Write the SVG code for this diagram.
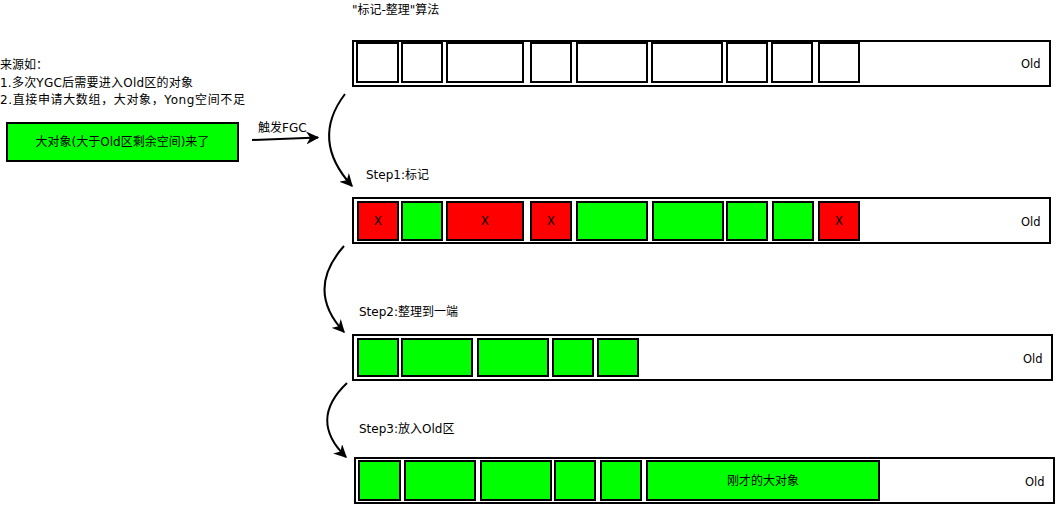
<svg xmlns="http://www.w3.org/2000/svg" width="1057" height="505" viewBox="0 0 1057 505">
<defs>
<style>
text{font-family:"DejaVu Sans","Noto Sans CJK SC",sans-serif;font-size:12px;fill:#000}
.old{font-size:11.5px}
.c{text-anchor:middle;dominant-baseline:central}
.outer{fill:#fff;stroke:#000;stroke-width:2}
.blk{stroke:#000;stroke-width:2}
.w{fill:#fff}
.g{fill:#00ff00}
.r{fill:#ff0000}
.conn{fill:none;stroke:#000;stroke-width:2}
</style>
<marker id="ah2" viewBox="0 0 10 10" refX="9" refY="5" markerWidth="13" markerHeight="13" markerUnits="userSpaceOnUse" orient="auto">
<path d="M0,0 L10,5 L0,10 L3,5 Z" fill="#000"/>
</marker>
</defs>
<rect width="1057" height="505" fill="#fff"/>

<text x="352" y="14">"标记-整理"算法</text>

<g id="source-text">
<text x="0" y="69">来源如：</text>
<text x="0" y="87" textLength="193" lengthAdjust="spacing">1.多次YGC后需要进入Old区的对象</text>
<text x="0" y="104" textLength="245" lengthAdjust="spacing">2.直接申请大数组，大对象，Yong空间不足</text>
</g>

<g id="big-object">
<rect x="7" y="123" width="231" height="38" class="g blk"/>
<text x="122.5" y="142" class="c">大对象(大于Old区剩余空间)来了</text>
</g>

<g id="connectors">
<text x="258" y="132">触发FGC</text>
<path d="M252,140 L318,137.5" class="conn" marker-end="url(#ah2)"/>
<path d="M345,94 Q310,140 352,186" class="conn" marker-end="url(#ah2)"/>
<path d="M344,246 Q305,290 344,332" class="conn" marker-end="url(#ah2)"/>
<path d="M347,383 Q308,420 346,457" class="conn" marker-end="url(#ah2)"/>
</g>

<g id="row0">
<rect x="353" y="41" width="697" height="45" class="outer"/>
<rect x="357" y="43" width="41" height="39" class="w blk"/>
<rect x="402" y="43" width="40" height="39" class="w blk"/>
<rect x="447" y="43" width="76" height="39" class="w blk"/>
<rect x="531" y="43" width="40" height="39" class="w blk"/>
<rect x="577" y="43" width="70" height="39" class="w blk"/>
<rect x="652" y="43" width="70" height="39" class="w blk"/>
<rect x="727" y="43" width="40" height="39" class="w blk"/>
<rect x="772" y="43" width="40" height="39" class="w blk"/>
<rect x="819" y="43" width="40" height="39" class="w blk"/>
<text x="1021" y="68" class="old">Old</text>
</g>

<g id="step1">
<text x="366" y="179">Step1:标记</text>
<rect x="353" y="198" width="697" height="45" class="outer"/>
<rect x="358" y="202" width="40" height="38" class="r blk"/>
<rect x="402" y="202" width="40" height="38" class="g blk"/>
<rect x="447" y="202" width="76" height="38" class="r blk"/>
<rect x="531" y="202" width="40" height="38" class="r blk"/>
<rect x="577" y="202" width="70" height="38" class="g blk"/>
<rect x="653" y="202" width="70" height="38" class="g blk"/>
<rect x="727" y="202" width="40" height="38" class="g blk"/>
<rect x="773" y="202" width="40" height="38" class="g blk"/>
<rect x="819" y="202" width="40" height="38" class="r blk"/>
<text x="378" y="221" class="c old">X</text>
<text x="485" y="221" class="c old">X</text>
<text x="551" y="221" class="c old">X</text>
<text x="839" y="221" class="c old">X</text>
<text x="1021" y="226" class="old">Old</text>
</g>

<g id="step2">
<text x="359" y="316">Step2:整理到一端</text>
<rect x="353" y="335" width="699" height="45" class="outer"/>
<rect x="358" y="339" width="40" height="37" class="g blk"/>
<rect x="402" y="339" width="70" height="37" class="g blk"/>
<rect x="478" y="339" width="70" height="37" class="g blk"/>
<rect x="553" y="339" width="40" height="37" class="g blk"/>
<rect x="598" y="339" width="40" height="37" class="g blk"/>
<text x="1023" y="363" class="old">Old</text>
</g>

<g id="step3">
<text x="359" y="433">Step3:放入Old区</text>
<rect x="355" y="458" width="699" height="45" class="outer"/>
<rect x="359" y="461" width="41" height="39" class="g blk"/>
<rect x="405" y="461" width="70" height="39" class="g blk"/>
<rect x="481" y="461" width="70" height="39" class="g blk"/>
<rect x="555" y="461" width="40" height="39" class="g blk"/>
<rect x="601" y="461" width="40" height="39" class="g blk"/>
<rect x="647" y="461" width="232" height="39" class="g blk"/>
<text x="763" y="481" class="c">刚才的大对象</text>
<text x="1025" y="486" class="old">Old</text>
</g>
</svg>
